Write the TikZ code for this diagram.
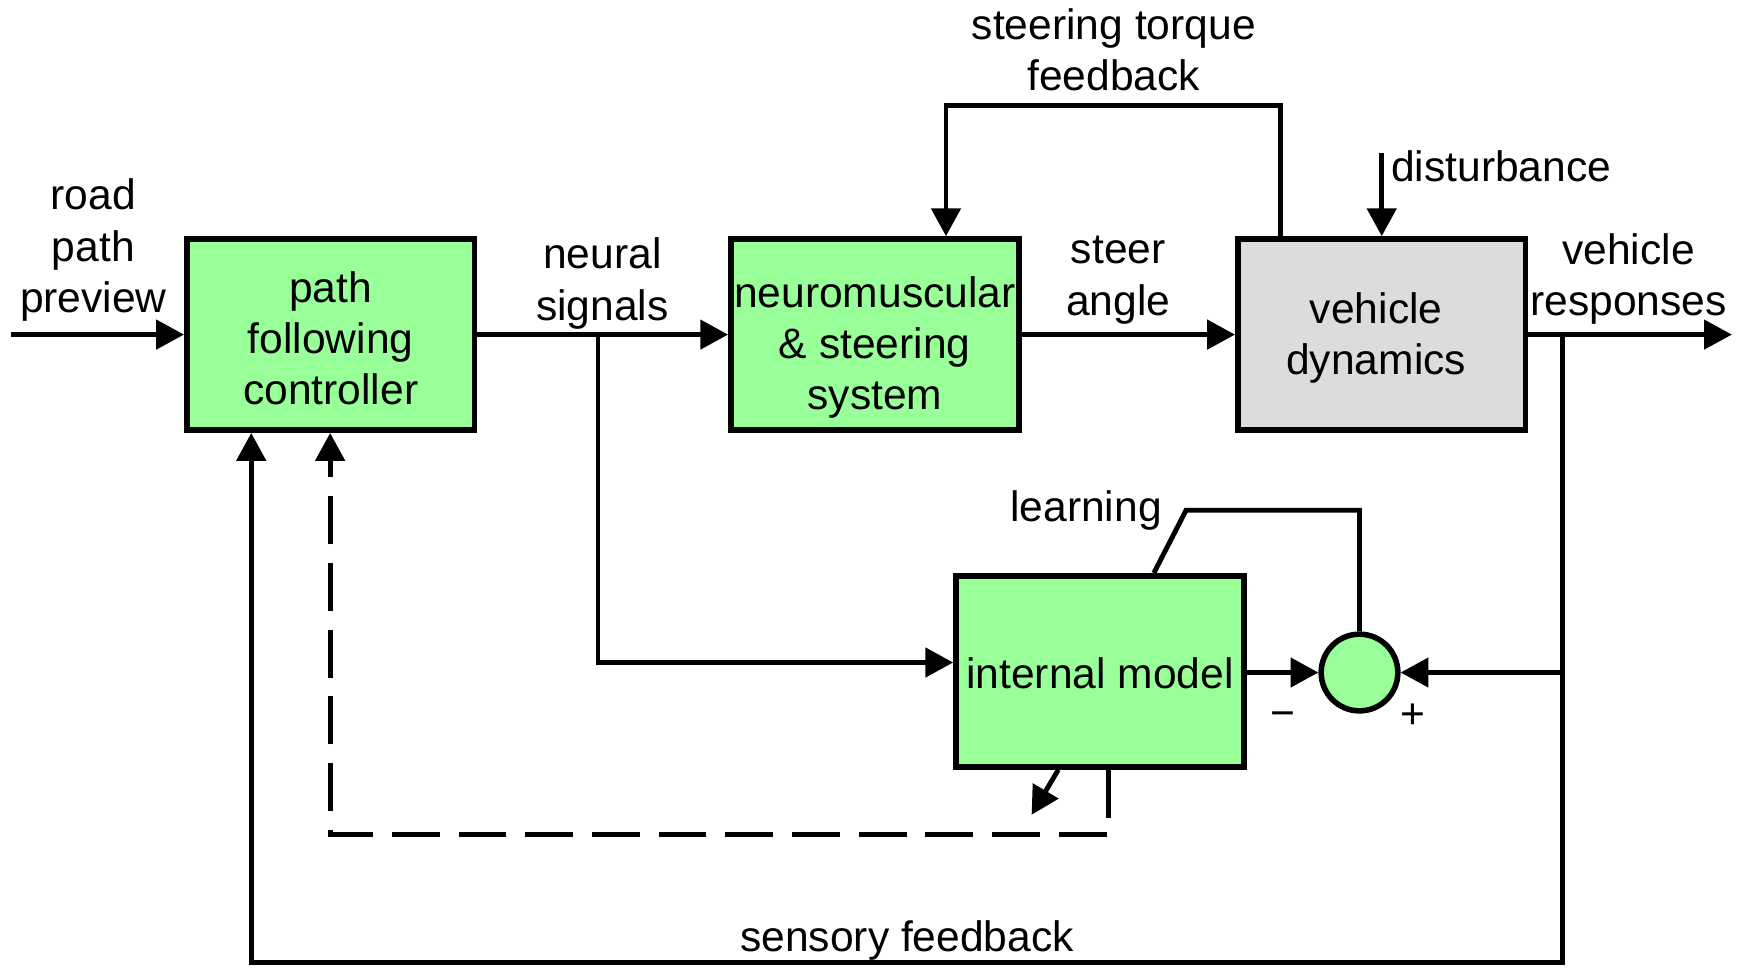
\documentclass[tikz,border=0pt]{standalone}
\usepackage{fontspec}
\setmainfont{Liberation Sans}
\usetikzlibrary{arrows.meta}
\definecolor{blockgreen}{HTML}{99FF99}
\definecolor{blockgray}{HTML}{DCDCDC}

\begin{document}
\begin{tikzpicture}[x=0.5pt,y=-0.5pt,
  font=\fontsize{19.15pt}{23pt}\selectfont,
  block/.style={draw, line width=2.5pt, fill=blockgreen, minimum width=129.5pt,
                minimum height=86pt, inner sep=0pt, align=center},
  sumnode/.style={draw, circle, line width=2.5pt, fill=blockgreen, minimum size=34.5pt, inner sep=0pt},
  lbl/.style={inner sep=0pt, align=center},
  conn/.style={line width=2.2pt, line join=miter},
  tip/.style={-{Triangle[length=12.5pt,width=13pt]}},
  dashline/.style={dash pattern=on 21.5pt off 8.5pt}
]
\useasboundingbox (0,0) rectangle (1568,870);

% blocks (the struts set where each text block sits inside its box)
\node[block] (pfc) at (297.5,301) {\rule{0pt}{16.96pt}path\\following\\controller};
\node[block] (nm)  at (787,301) {\rule{0pt}{25.7pt}neuromuscular\\\& steering\\system};
\node[block, fill=blockgray] (vd) at (1243,301) {\rule{0pt}{16.96pt}vehicle\hspace*{5pt}\\dynamics\hspace*{5pt}};
\node[block] (im)  at (989.5,604) {\rule{0pt}{15.96pt}internal model};
\node[sumnode] (sum) at (1223,605) {};

% routing points
\coordinate (in) at (10,301);
\coordinate (out) at (1558,301);
\coordinate (nsbr) at (538,301);
\coordinate (nsturn) at (538,596);
\coordinate (tqR) at (1152,95);
\coordinate (tqL) at (851,95);
\coordinate (dist) at (1243,138);
\coordinate (fbbr) at (1406,301);
\coordinate (fbR) at (1406,866);
\coordinate (fbL) at (226,866);
\coordinate (lrnR) at (1223,459);
\coordinate (lrnL) at (1067,459);
\coordinate (lrnE) at (1038,0);
\coordinate (adS) at (952,0);
\coordinate (adE) at (928,733);
\coordinate (dsS) at (997,751);
\coordinate (dsL) at (297,751);

% forward path
\draw[conn,tip] (in) -- (pfc.west);
\draw[conn,tip] (pfc.east) -- (nm.west);
\draw[conn,tip] (nm.east) -- (vd.west);
\draw[conn,tip] (vd.east) -- (out);

% steering torque feedback and disturbance
\draw[conn,tip] (vd.north -| tqR) -- (tqR) -- (tqL) -- (nm.north -| tqL);
\draw[conn,tip] (dist) -- (vd.north -| dist);

% sensory feedback
\draw[conn,tip] (fbbr) -- (fbR) -- (fbL) -- (pfc.south -| fbL);
\draw[conn,tip] (fbbr |- sum) -- (sum.east);

% internal model loop
\draw[conn,tip] (nsbr) -- (nsturn) -- (nsturn -| im.west);
\draw[conn,tip] (im.east |- sum) -- (sum.west);
\draw[conn] (sum.north) -- (lrnR) -- (lrnL) -- (im.north -| lrnE);
\draw[conn,tip] (im.south -| adS) -- (adE);
\draw[conn,dashline,tip] (im.south -| dsS) -- (dsS) -- (dsL) -- (pfc.south -| dsL);

% labels
\node[lbl] (lroad) at (84,225) {road\\path\\preview};
\node[lbl] (lneural) at (542,255) {neural\\signals};
\node[lbl] (lsteer) at (1006,252) {steer\\angle};
\node[lbl] (ltorque) at (1002,45) {steering torque\\feedback};
\node[lbl, anchor=base west] (ldist) at (1251,163) {disturbance};
\node[lbl] (lresp) at (1465,251) {vehicle\\responses};
\node[lbl] (llearn) at (977,459) {learning};
\node[lbl] (lsens) at (816,846) {sensory feedback};
\node[lbl] (lminus) at (1154,647) {−};
\node[lbl] (lplus) at (1271,644) {+};
\end{tikzpicture}
\end{document}
